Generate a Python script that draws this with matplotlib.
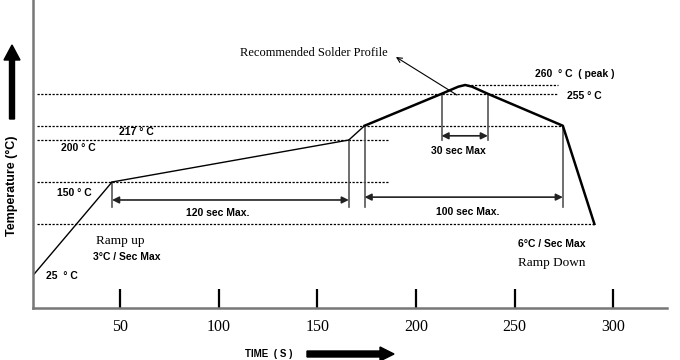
import matplotlib.pyplot as plt
import matplotlib.patches as mpatches
from matplotlib.transforms import IdentityTransform

# reflow profile (time s, temperature C), as drawn
ramp_t = [6, 46, 166, 174]
ramp_T = [39, 150, 200, 217]
reflow_t = [174, 213, 221.5, 225, 228.5, 236.5, 274.5, 290.5]
reflow_T = [217, 255, 263.5, 265.5, 263.5, 255, 217, 100]

# dotted reference levels: temperature, start time, end time
level_T = [265, 255, 217, 200, 150, 100]
level_t0 = [226, 8, 8, 8, 8, 8]
level_t1 = [272, 272, 274.5, 186, 186, 290.5]

# vertical markers: time, top temp, bottom temp
mark_t = [46, 166, 174, 213, 236.5, 274.5]
mark_top = [150, 200, 217, 255, 255, 217]
mark_bot = [120, 120, 120, 200, 200, 120]

# duration arrows: start, end, temp level, label
span_t0 = [46, 174, 213]
span_t1 = [166, 274.5, 236.5]
span_T = [128.6, 132, 205]
span_lbl = ["120 sec Max.", "100 sec Max.", "30 sec Max"]

xticks = [50, 100, 150, 200, 250, 300]

SANS = "Liberation Sans"
SERIF = "Liberation Serif"

fig = plt.figure(figsize=(6.8, 3.6), dpi=100)
ax = fig.add_axes([33/680, 52/360, 634/680, 308/360])
ax.set_xlim(5.93, 327.3)
ax.set_ylim(0, 366.7)

for s in ["top", "right"]:
    ax.spines[s].set_visible(False)
for s in ["left", "bottom"]:
    ax.spines[s].set_color("#777777")
    ax.spines[s].set_linewidth(1.8)

ax.set_yticks([])
ax.set_xticks(xticks)
ax.set_xticklabels([str(v) for v in xticks], fontfamily=SERIF, fontsize=11.5)
ax.tick_params(axis="x", direction="in", length=14, width=1.6, color="black", pad=8)

# dotted levels
for T, a, b in zip(level_T, level_t0, level_t1):
    ax.plot([a, b], [T, T], color="black", lw=0.9, ls=(0, (1.8, 1.2)))

# vertical markers
for t, top, bot in zip(mark_t, mark_top, mark_bot):
    ax.plot([t, t], [bot, top], color="#555555", lw=1.2)

# profile
ax.plot(ramp_t, ramp_T, color="black", lw=1.0)
ax.plot(reflow_t, reflow_T, color="black", lw=1.8, solid_joinstyle="round")

# duration arrows
for a, b, T, lbl in zip(span_t0, span_t1, span_T, span_lbl):
    ax.annotate("", xy=(b, T), xytext=(a, T),
                arrowprops=dict(arrowstyle="<|-|>", color="#222222", lw=1.2,
                                mutation_scale=10, shrinkA=0, shrinkB=0))
tl = [(99.7, 113), (226.4, 114), (221.8, 187)]
for (x, y), lbl in zip(tl, span_lbl):
    ax.text(x, y, lbl, ha="center", va="center", fontfamily=SANS,
            fontweight="bold", fontsize=7.5)

bold_txt = [
    (49.5, 209.5, "217 ° C"),
    (20, 190.5, "200 ° C"),
    (18, 137, "150 ° C"),
    (12.5, 38, "25  ° C"),
    (36.3, 61, "3°C / Sec Max"),
    (260.4, 278.6, "260  ° C  ( peak )"),
    (276.6, 252.4, "255 ° C"),
    (251.7, 76, "6°C / Sec Max"),
]
for x, y, s in bold_txt:
    ax.text(x, y, s, ha="left", va="center", fontfamily=SANS,
            fontweight="bold", fontsize=7.5)

ax.text(37.9, 80, "Ramp up", ha="left", va="center", fontfamily=SERIF, fontsize=9.5)
ax.text(251.7, 53.6, "Ramp Down", ha="left", va="center", fontfamily=SERIF, fontsize=9.5)
ax.text(110.8, 303.6, "Recommended Solder Profile", ha="left", va="center",
        fontfamily=SERIF, fontsize=9)
ax.annotate("", xy=(189.9, 298.8), xytext=(220.8, 253.6),
            arrowprops=dict(arrowstyle="->", color="black", lw=0.8,
                            mutation_scale=9, shrinkA=0, shrinkB=0))

# outer labels with thick arrows
fig.text(12/680, 174/360, "Temperature (°C)", rotation=90, ha="center", va="center",
         fontfamily=SANS, fontweight="bold", fontsize=9)
fig.text(245/680, 6/360, "TIME  ( S )", ha="left", va="center",
         fontfamily=SANS, fontweight="bold", fontsize=7)

up = mpatches.FancyArrow(12, 241, 0, 74, width=5, head_width=16, head_length=15,
                         length_includes_head=True, color="black",
                         transform=IdentityTransform())
right = mpatches.FancyArrow(307, 6, 87, 0, width=6, head_width=14, head_length=14,
                            length_includes_head=True, color="black",
                            transform=IdentityTransform())
fig.add_artist(up)
fig.add_artist(right)

fig.savefig("out.png", dpi=100)
